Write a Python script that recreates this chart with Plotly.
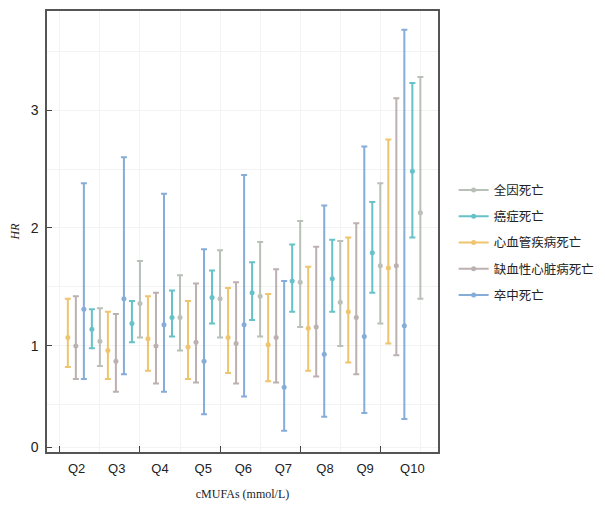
import plotly.graph_objects as go

groups = ["Q2", "Q3", "Q4", "Q5", "Q6", "Q7", "Q8", "Q9", "Q10"]

# order of series inside each group (left to right)
series_names = ["心血管疾病死亡", "缺血性心脏病死亡", "卒中死亡", "癌症死亡", "全因死亡"]
legend_order = ["全因死亡", "癌症死亡", "心血管疾病死亡", "缺血性心脏病死亡", "卒中死亡"]

cvd_hr = [1.07, 0.96, 1.06, 0.99, 1.07, 1.01, 1.15, 1.29, 1.66]
cvd_lo = [0.82, 0.72, 0.79, 0.72, 0.77, 0.70, 0.79, 0.86, 1.02]
cvd_hi = [1.40, 1.29, 1.42, 1.38, 1.49, 1.44, 1.67, 1.92, 2.75]

ihd_hr = [1.00, 0.87, 1.00, 1.03, 1.02, 1.07, 1.16, 1.24, 1.68]
ihd_lo = [0.72, 0.61, 0.68, 0.69, 0.68, 0.69, 0.74, 0.76, 0.92]
ihd_hi = [1.42, 1.27, 1.45, 1.53, 1.54, 1.65, 1.84, 2.04, 3.10]

stroke_hr = [1.31, 1.40, 1.18, 0.87, 1.18, 0.65, 0.93, 1.08, 1.17]
stroke_lo = [0.72, 0.76, 0.61, 0.42, 0.57, 0.28, 0.40, 0.43, 0.38]
stroke_hi = [2.38, 2.60, 2.29, 1.82, 2.45, 1.55, 2.19, 2.69, 3.68]

cancer_hr = [1.14, 1.19, 1.24, 1.41, 1.45, 1.55, 1.57, 1.79, 2.48]
cancer_lo = [0.98, 1.03, 1.08, 1.19, 1.22, 1.29, 1.29, 1.45, 1.92]
cancer_hi = [1.31, 1.38, 1.47, 1.64, 1.71, 1.86, 1.90, 2.22, 3.23]

allc_hr = [1.04, 1.36, 1.24, 1.40, 1.42, 1.54, 1.37, 1.68, 2.13]
allc_lo = [0.83, 1.07, 0.96, 1.07, 1.08, 1.16, 1.00, 1.19, 1.40]
allc_hi = [1.32, 1.72, 1.60, 1.81, 1.88, 2.06, 1.89, 2.38, 3.28]

y_ticktext = ["0", "1", "2", "3"]

series = {
    "心血管疾病死亡": (cvd_hr, cvd_lo, cvd_hi, "#efc46e"),
    "缺血性心脏病死亡": (ihd_hr, ihd_lo, ihd_hi, "#bdb0b0"),
    "卒中死亡": (stroke_hr, stroke_lo, stroke_hi, "#86acd8"),
    "癌症死亡": (cancer_hr, cancer_lo, cancer_hi, "#66c2c8"),
    "全因死亡": (allc_hr, allc_lo, allc_hi, "#b8c0b8"),
}

fig = go.Figure()
n = len(series_names)
for k, name in enumerate(series_names):
    hr, lo, hi, col = series[name]
    xs = [g * n + k + 1 for g in range(len(groups))]
    fig.add_trace(go.Scatter(
        x=xs, y=hr, mode="markers", showlegend=False,
        marker=dict(color=col, size=5),
        error_y=dict(type="data", symmetric=False,
                     array=[h - m for h, m in zip(hi, hr)],
                     arrayminus=[m - l for m, l in zip(hr, lo)],
                     color=col, thickness=2, width=3),
    ))

for i, name in enumerate(legend_order):
    col = series[name][3]
    fig.add_trace(go.Scatter(
        x=[None], y=[None], mode="lines+markers", name=name,
        legendgroup=name,
        line=dict(color=col, width=2), marker=dict(color=col, size=5),
    ))

# invisible trace to activate the overlay axis
fig.add_trace(go.Scatter(x=[None], y=[None], xaxis="x2", showlegend=False))

label_pos = [2.1, 7.1, 12.5, 17.9, 22.9, 27.9, 33.1, 38.1, 44.0]
xr = [-1.6, 47.2]

fig.update_layout(
    width=597, height=497,
    margin=dict(l=39, r=167, t=3, b=53, autoexpand=False),
    paper_bgcolor="white", plot_bgcolor="white",
    font=dict(family="Liberation Sans, Arial, sans-serif", size=13, color="#222"),
    xaxis=dict(range=xr, tickvals=label_pos, ticktext=groups, ticks="",
               showgrid=False, zeroline=False, showline=True, mirror=True,
               linecolor="#555", linewidth=1.5, automargin=False,
               ticklabelstandoff=4,
               tickfont=dict(size=13, color="#222"),
               title=dict(text="cMUFAs (mmol/L)", standoff=14,
                          font=dict(family="Liberation Serif, Times New Roman, serif",
                                    size=12, color="#222"))),
    xaxis2=dict(range=xr, overlaying="x", tickvals=[0, 10, 20, 30, 40],
                showticklabels=False, ticks="inside", ticklen=6, tickwidth=1.2,
                tickcolor="#444", showgrid=True, gridcolor="#f3f3f3",
                minor=dict(dtick=5, tick0=0, showgrid=True, gridcolor="#f3f3f3"),
                zeroline=False, showline=False, automargin=False),
    yaxis=dict(range=[0.1, 3.84], tickvals=[0.14, 1, 2, 3], ticktext=y_ticktext,
               ticks="inside", ticklen=5, tickcolor="#444",
               showgrid=True, gridcolor="#f3f3f3",
               minor=dict(dtick=0.5, tick0=0, showgrid=True, gridcolor="#f3f3f3"),
               zeroline=False, showline=True, mirror=True,
               linecolor="#555", linewidth=1.5, automargin=False,
               ticklabelstandoff=4,
               tickfont=dict(size=14, color="#222"),
               title=dict(text="<i>HR</i>", standoff=10,
                          font=dict(family="Liberation Serif, Times New Roman, serif",
                                    size=12, color="#222"))),
    legend=dict(x=1.04, y=0.627, xanchor="left", yanchor="top",
                tracegroupgap=7, bgcolor="rgba(0,0,0,0)",
                font=dict(family="Noto Sans CJK SC", size=12.5, color="#222")),
)

fig.write_html("out.html")
